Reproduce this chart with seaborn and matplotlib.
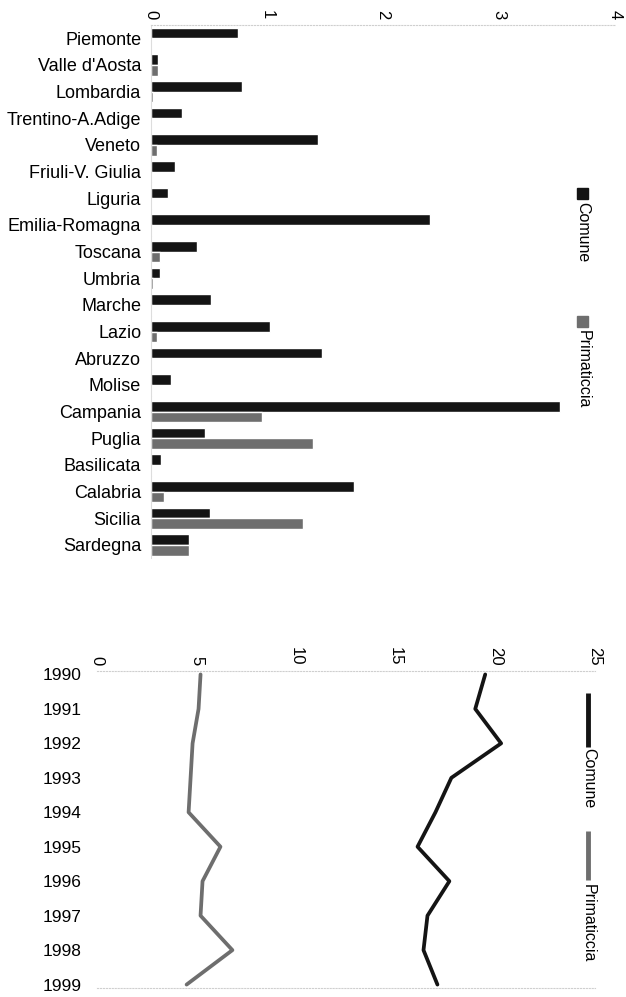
import pandas as pd
import matplotlib.pyplot as plt
import seaborn as sns
from matplotlib.lines import Line2D
from matplotlib.patches import Rectangle

regions = ["Piemonte", "Valle d'Aosta", "Lombardia", "Trentino-A.Adige", "Veneto",
           "Friuli-V. Giulia", "Liguria", "Emilia-Romagna", "Toscana", "Umbria",
           "Marche", "Lazio", "Abruzzo", "Molise", "Campania", "Puglia",
           "Basilicata", "Calabria", "Sicilia", "Sardegna"]
comune_reg = [0.75, 0.06, 0.79, 0.27, 1.44, 0.21, 0.15, 2.41, 0.40, 0.08,
              0.52, 1.03, 1.48, 0.17, 3.53, 0.47, 0.09, 1.75, 0.51, 0.33]
primaticcia_reg = [0.01, 0.06, 0.02, 0.01, 0.05, 0.01, 0.01, 0.01, 0.08, 0.02,
                   0.01, 0.05, 0.01, 0.01, 0.96, 1.40, 0.01, 0.11, 1.31, 0.33]

years = [1990, 1991, 1992, 1993, 1994, 1995, 1996, 1997, 1998, 1999]
comune_year = [19.5, 19.0, 20.3, 17.8, 17.0, 16.1, 17.7, 16.6, 16.4, 17.1]
primaticcia_year = [5.2, 5.1, 4.8, 4.7, 4.6, 6.2, 5.3, 5.2, 6.8, 4.5]

series = ["Comune", "Primaticcia"]
colors = {"Comune": "#141414", "Primaticcia": "#6e6e6e"}

sns.set_style("white")
plt.rcParams['font.family'] = ['Liberation Sans', 'DejaVu Sans']
plt.rcParams['text.color'] = 'black'
plt.rcParams['xtick.color'] = 'black'
plt.rcParams['ytick.color'] = 'black'

bar_df = pd.concat([
    pd.DataFrame({"region": regions, "value": comune_reg, "series": "Comune"}),
    pd.DataFrame({"region": regions, "value": primaticcia_reg, "series": "Primaticcia"}),
])
line_df = pd.concat([
    pd.DataFrame({"year": years, "value": comune_year, "series": "Comune"}),
    pd.DataFrame({"year": years, "value": primaticcia_year, "series": "Primaticcia"}),
])

fig = plt.figure(figsize=(6.26, 9.97), dpi=100)

# bar chart by region
ax1 = fig.add_axes([0.241, 0.440, 0.741, 0.535])
sns.barplot(data=bar_df, x="value", y="region", hue="series", order=regions,
            hue_order=series, palette=colors, width=0.8, saturation=1,
            legend=False, ax=ax1)
ax1.set_xlim(0, 4)
ax1.set_xticks([0, 1, 2, 3, 4])
ax1.xaxis.tick_top()
ax1.tick_params(axis='x', labelrotation=-90, labelsize=12, length=0, pad=4, labelcolor='black')
ax1.tick_params(axis='y', labelsize=13, length=0, pad=7, labelcolor='black')
ax1.set_xlabel("")
ax1.set_ylabel("")
for s in ["right", "bottom"]:
    ax1.spines[s].set_visible(False)
ax1.spines["top"].set_color("#cfcfcf")
ax1.spines["top"].set_linestyle(":")
ax1.spines["left"].set_color("#dddddd")
ax1.spines["left"].set_linewidth(0.8)

# legend, rotated like the rest of the chart
for name, (y0, yt) in zip(series, [(0.800, 0.797), (0.672, 0.669)]):
    fig.patches.append(Rectangle((0.922, y0), 0.017, 0.011, color=colors[name],
                                 transform=fig.transFigure, figure=fig))
    fig.text(0.931, yt, name, rotation=-90, ha="center", va="top", fontsize=11.5)

# line chart by year
ax2 = fig.add_axes([0.155, 0.009, 0.795, 0.318])
sns.lineplot(data=line_df, x="value", y="year", hue="series", hue_order=series,
             palette=colors, orient="y", linewidth=2.7, legend=False, ax=ax2)
ax2.set_xlim(0, 25)
ax2.set_xticks([0, 5, 10, 15, 20, 25])
ax2.set_ylim(1999.1, 1989.9)
ax2.set_yticks(years)
ax2.xaxis.tick_top()
ax2.tick_params(axis='x', labelrotation=-90, labelsize=12, length=0, pad=4, labelcolor='black')
ax2.tick_params(axis='y', labelsize=12.5, length=0, pad=11, labelcolor='black')
ax2.set_xlabel("")
ax2.set_ylabel("")
for s in ["right", "left"]:
    ax2.spines[s].set_visible(False)
for s in ["top", "bottom"]:
    ax2.spines[s].set_color("#cfcfcf")
    ax2.spines[s].set_linestyle(":")

for name, (y0, y1, yt) in zip(series, [(0.305, 0.251, 0.250), (0.167, 0.117, 0.113)]):
    fig.lines.append(Line2D([0.940, 0.940], [y0, y1], color=colors[name], linewidth=3.5,
                            solid_capstyle="butt", transform=fig.transFigure, figure=fig))
    fig.text(0.940, yt, name, rotation=-90, ha="center", va="top", fontsize=11.5)

fig.savefig("out.png", dpi=100)
